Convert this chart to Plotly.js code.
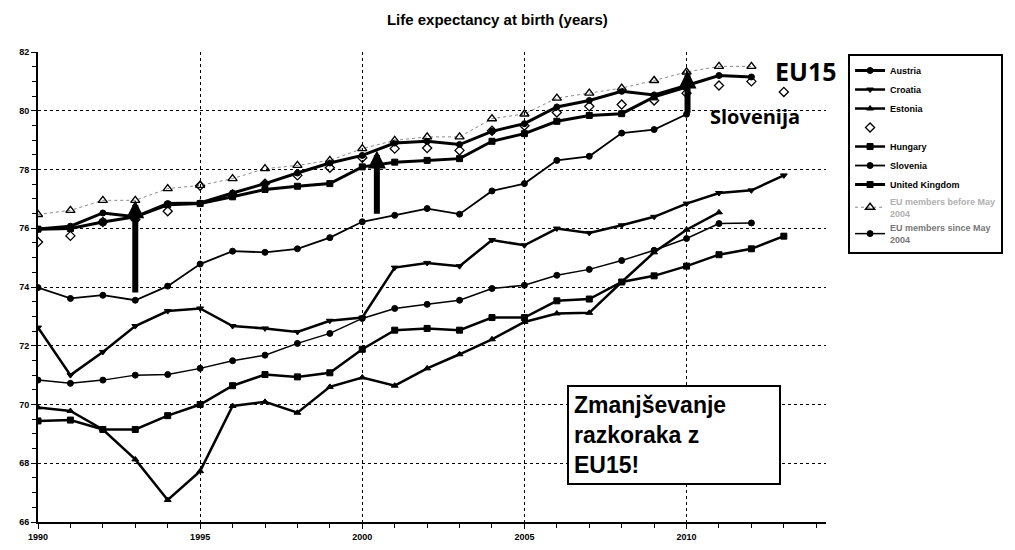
<!DOCTYPE html>
<html>
<head>
<meta charset="utf-8">
<script src="https://cdn.plot.ly/plotly-3.0.1.min.js"></script>
<style>html,body{margin:0;padding:0;background:#fff;}#chart{width:1015px;height:550px;}</style>
</head>
<body>
<div id="chart"></div>
<script>
// ---- data ----
const years = [1990,1991,1992,1993,1994,1995,1996,1997,1998,1999,2000,2001,2002,2003,2004,2005,2006,2007,2008,2009,2010,2011,2012,2013];
const austria  = [75.97,76.07,76.52,76.39,76.84,76.86,77.20,77.52,77.88,78.22,78.48,78.90,78.96,78.85,79.30,79.56,80.13,80.35,80.66,80.54,80.86,81.20,81.15,null];
const croatia  = [72.62,71.00,71.79,72.67,73.18,73.27,72.67,72.59,72.47,72.85,72.96,74.66,74.82,74.71,75.60,75.42,75.99,75.84,76.10,76.39,76.84,77.20,77.29,77.80];
const estonia  = [69.90,69.78,69.15,68.13,66.75,67.73,69.95,70.09,69.72,70.60,70.92,70.64,71.23,71.71,72.22,72.81,73.10,73.12,74.17,75.18,75.95,76.54,null,null];
const unnamed  = [75.53,75.74,76.21,76.30,76.58,77.45,77.15,77.52,77.80,78.06,78.40,78.71,78.73,78.65,79.32,79.49,79.94,80.15,80.21,80.35,80.60,80.86,81.00,80.64];
const hungary  = [69.44,69.47,69.15,69.15,69.62,70.00,70.64,71.02,70.94,71.08,71.88,72.53,72.59,72.53,72.96,72.96,73.53,73.59,74.17,74.38,74.71,75.10,75.30,75.73];
const slovenia = [73.98,73.61,73.72,73.55,74.03,74.78,75.22,75.18,75.30,75.68,76.22,76.44,76.67,76.48,77.27,77.52,78.31,78.45,79.24,79.36,79.88,null,null,null];
const uk       = [75.97,75.99,76.21,76.39,76.80,76.84,77.07,77.32,77.43,77.52,78.09,78.25,78.31,78.37,78.96,79.22,79.64,79.84,79.90,80.47,80.81,null,null,null];
const euBefore = [76.47,76.61,76.95,76.95,77.35,77.46,77.69,78.03,78.14,78.31,78.71,78.99,79.11,79.11,79.73,79.89,80.43,80.60,80.77,81.03,81.32,81.51,81.51,null];
const euSince  = [70.83,70.72,70.83,71.00,71.02,71.23,71.49,71.68,72.08,72.42,72.93,73.27,73.41,73.55,73.95,74.06,74.40,74.60,74.90,75.25,75.65,76.16,76.18,null];

const seriesNames = ["Austria","Croatia","Estonia"," ","Hungary","Slovenia","United Kingdom",
  '<span style="color:#b0b0b0">EU members before May<br>2004</span>',
  '<span style="color:#777777">EU members since May<br>2004</span>'];

// gap arrows: [year, from value, to value]
const arrowYears = [1993, 2000.45, 2010.03];
const arrowFrom  = [73.76, 76.44, 79.88];
const arrowTo    = [76.95, 78.65, 81.37];

const FONT = "Liberation Sans, Arial, sans-serif";

function line(y, name, width, symbol, color, mode) {
  return {
    x: years, y: y, name: name, type: "scatter", mode: mode || "lines+markers",
    line: {color: color || "#000", width: width},
    marker: {symbol: symbol, size: 6, color: color || "#000", line: {color: color || "#000", width: 1}},
    connectgaps: false
  };
}

const traces = [
  line(austria,  seriesNames[0], 3,   "circle"),
  line(croatia,  seriesNames[1], 2.5, "triangle-down"),
  line(estonia,  seriesNames[2], 2.5, "triangle-up"),
  {x: years, y: unnamed, name: seriesNames[3], type: "scatter", mode: "markers",
   marker: {symbol: "diamond-open", size: 7, color: "#000", line: {width: 1.3, color: "#000"}}},
  line(hungary,  seriesNames[4], 2.5, "square"),
  line(slovenia, seriesNames[5], 1.8, "circle"),
  line(uk,       seriesNames[6], 3,   "square"),
  {x: years, y: euBefore, name: seriesNames[7], type: "scatter", mode: "lines+markers",
   line: {color: "#8a8a8a", width: 1, dash: "dot"},
   marker: {symbol: "triangle-up-open", size: 8, color: "#000", line: {width: 1.4, color: "#000"}}},
  line(euSince,  seriesNames[8], 1.5, "circle")
];

const annotations = [];
for (let i = 0; i < arrowYears.length; i++) {
  annotations.push({
    x: arrowYears[i], y: arrowTo[i], ax: arrowYears[i], ay: arrowFrom[i],
    xref: "x", yref: "y", axref: "x", ayref: "y",
    text: "", showarrow: true, arrowhead: 2, arrowsize: 0.6, arrowwidth: 6,
    arrowcolor: "#000", standoff: 0, startstandoff: 0
  });
}
annotations.push({
  xref: "paper", yref: "paper", x: 0.671, y: 0.2915, xanchor: "left", yanchor: "top",
  text: "<b>Zmanjševanje<br>razkoraka z<br>EU15!</b>", align: "left", showarrow: false,
  font: {family: FONT, size: 23, color: "#000"},
  bordercolor: "#000", borderwidth: 2, borderpad: 5, bgcolor: "#fff", width: 200
});
annotations.push({
  xref: "paper", yref: "paper", x: 0.974, y: 0.9596, xanchor: "center", yanchor: "middle",
  text: "<b>EU15</b>", showarrow: false, font: {family: "Open Sans, sans-serif", size: 25, color: "#000"}
});
annotations.push({
  xref: "paper", yref: "paper", x: 0.91, y: 0.862, xanchor: "center", yanchor: "middle",
  text: "<b>Slovenija</b>", showarrow: false, font: {family: "Open Sans, sans-serif", size: 20, color: "#000"}
});

const layout = {
  width: 1015, height: 550,
  paper_bgcolor: "#fff", plot_bgcolor: "#fff",
  margin: {l: 38, r: 180, t: 52, b: 28},
  font: {family: FONT, color: "#000"},
  title: {text: "<b>Life expectancy at birth (years)</b>", x: 0.49, xanchor: "center",
          y: 0.964, yanchor: "middle", font: {family: FONT, size: 15, color: "#000"}},
  showlegend: true,
  legend: {x: 1.028, y: 0.9957, xanchor: "left", yanchor: "top",
           bordercolor: "#000", borderwidth: 2, bgcolor: "#fff",
           font: {family: FONT, size: 9, color: "#000", weight: "bold"},
           itemwidth: 30, tracegroupgap: 0, entrywidth: 118, entrywidthmode: "pixels"},
  xaxis: {range: [1990, 2014.3], dtick: 5, tick0: 1990, showgrid: true,
          gridcolor: "#000", griddash: "dot", gridwidth: 1,
          showline: true, linecolor: "#000", linewidth: 2,
          ticks: "outside", ticklen: 5, tickcolor: "#000",
          minor: {dtick: 1, ticks: "outside", ticklen: 4, tickcolor: "#000", showgrid: false},
          tickfont: {family: FONT, size: 9, color: "#000", weight: "bold"}, zeroline: false},
  yaxis: {range: [66, 82], dtick: 2, showgrid: true,
          gridcolor: "#000", griddash: "dot", gridwidth: 1,
          showline: true, linecolor: "#000", linewidth: 2,
          ticks: "outside", ticklen: 5, tickcolor: "#000",
          minor: {dtick: 0.5, ticks: "outside", ticklen: 4, tickcolor: "#000", showgrid: false},
          tickfont: {family: FONT, size: 9, color: "#000", weight: "bold"}, zeroline: false},
  annotations: annotations
};

Plotly.newPlot("chart", traces, layout, {displayModeBar: false, staticPlot: true});
</script>
</body>
</html>
